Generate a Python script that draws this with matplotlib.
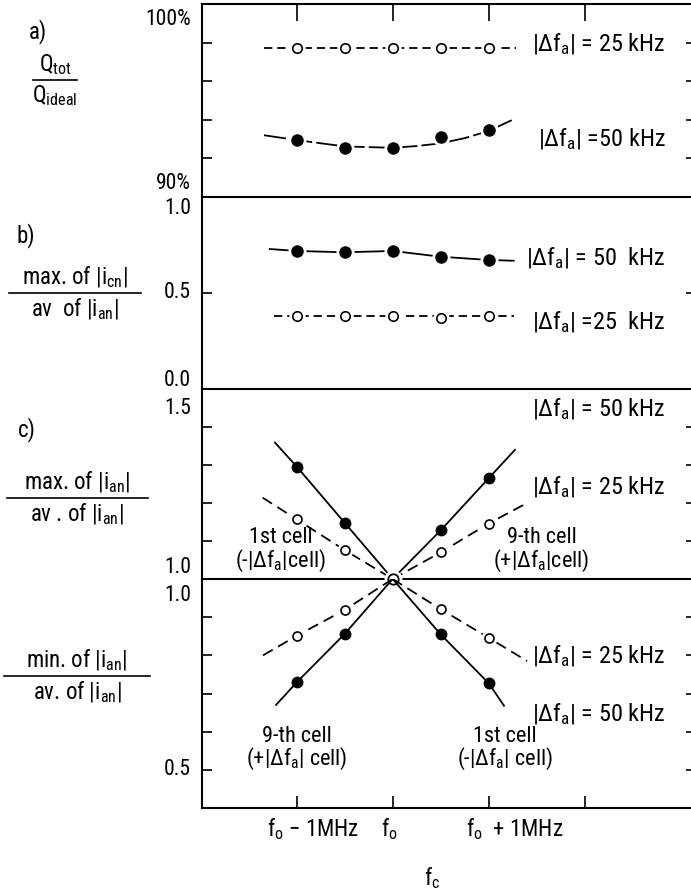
import matplotlib
matplotlib.use('Agg')
import matplotlib.pyplot as plt
from matplotlib import font_manager
from matplotlib.lines import Line2D

# carrier offset from f0 in MHz
fc = [-1.0, -0.5, 0.0, 0.5, 1.0]
fc_neg = [-1.0, -0.5]
fc_pos = [0.5, 1.0]

# a) Q_tot / Q_ideal  (%)
q_25 = [97.7, 97.7, 97.7, 97.7, 97.7]
q_25_ends = [-1.34, 1.28]
q_50 = [92.95, 92.55, 92.54, 93.12, 93.47]
q_50_fit_x = [-1.34, -1.0, -0.5, 0.0, 0.25, 0.5, 0.75, 1.0, 1.24]
q_50_fit_y = [93.2, 92.95, 92.62, 92.55, 92.64, 92.78, 93.05, 93.42, 93.98]

# b) max |i_cn| / av |i_an|
icn_50 = [0.719, 0.712, 0.719, 0.689, 0.672]
icn_50_start = (-1.28, 0.729)
icn_50_end = (1.26, 0.668)
icn_25 = [0.38, 0.38, 0.38, 0.371, 0.38]
icn_25_ends = [-1.24, 1.26]

# c) max and min of |i_an| / av |i_an|, all lines meet at (f0, 1.0)
center = (0.0, 1.0)
max_50_neg = [1.296, 1.148]
max_50_pos = [1.128, 1.265]
max_25_neg = [1.157, 1.076]
max_25_pos = [1.07, 1.146]
min_50_neg = [0.729, 0.856]
min_50_pos = [0.855, 0.727]
min_25_neg = [0.851, 0.919]
min_25_pos = [0.921, 0.846]
# outer ends of the straight lines (x, y)
max_50_ends = [(-1.226, 1.359), (1.274, 1.34)]
max_25_ends = [(-1.354, 1.214), (1.4, 1.2)]
min_50_ends = [(-1.215, 0.67), (1.16, 0.668)]
min_25_ends = [(-1.35, 0.80), (1.4, 0.785)]

xtick_pos = [-1, 0, 1, 2]
xtick_text = [r'f$_\mathrm{o}$ $-$ 1MHz', r'f$_\mathrm{o}$', r'f$_\mathrm{o}$  + 1MHz']

DF = r'$|\Delta \mathrm{f}_\mathrm{a}|$'

names = {f.name for f in font_manager.fontManager.ttflist}
FONT = 'DejaVu Sans'
for n in ['Liberation Sans Narrow', 'Roboto Condensed', 'Liberation Sans']:
    if n in names:
        FONT = n
        break
plt.rcParams['font.family'] = [FONT, 'DejaVu Sans']
plt.rcParams['mathtext.fontset'] = 'custom'
plt.rcParams['mathtext.rm'] = FONT
plt.rcParams['mathtext.it'] = FONT
plt.rcParams['mathtext.bf'] = FONT
plt.rcParams['lines.scale_dashes'] = False
FS = 15.5      # numbers
FS_L = 17.5    # curve labels
FS_F = 16.5    # axis fractions

W, H = 691, 894
fig = plt.figure(figsize=(W / 100, H / 100), dpi=100)

def box(top, bottom, left=202, right=696):
    return [left / W, 1 - bottom / H, (right - left) / W, (bottom - top) / H]

ax_a = fig.add_axes(box(4, 197))
ax_b = fig.add_axes(box(197, 389))
ax_cu = fig.add_axes(box(389, 579))
ax_cl = fig.add_axes(box(579, 808))

XL = (-1.986, 3.16)
LW = 1.5
for ax in (ax_a, ax_b, ax_cu, ax_cl):
    ax.set_xlim(*XL)
    ax.patch.set_alpha(0)
    ax.spines['right'].set_visible(False)
    ax.spines['top'].set_visible(False)
    for s in ('left', 'bottom'):
        ax.spines[s].set_linewidth(LW)
    ax.tick_params(axis='y', direction='in', length=7.5, width=1.2,
                   left=True, right=True, labelleft=False)
    ax.tick_params(axis='x', bottom=False, top=False, labelbottom=False)
ax_a.spines['top'].set_visible(True)
ax_a.spines['top'].set_linewidth(LW)

def ylab(ax, text, y, off):
    ax.annotate(text, xy=(0, y), xycoords=('axes fraction', 'data'),
                xytext=(-8, off), textcoords='offset points',
                ha='right', va='center', fontsize=FS)

def open_pts(ax, x, y, ms=6.8):
    ax.plot(x, y, 'o', ms=ms + 4, mfc='white', mec='white', zorder=4)
    ax.plot(x, y, 'o', ms=ms, mfc='white', mec='black', mew=1.2, zorder=5)

def full_pts(ax, x, y, ms=8.0, halo=True):
    if halo:
        ax.plot(x, y, 'o', ms=ms + 4, mfc='white', mec='white', zorder=4)
    ax.plot(x, y, 'o', ms=ms, mfc='black', mec='black', zorder=5)

def curve_label(ax, text, y):
    ax.text(2.84, y, text, ha='right', va='center', fontsize=FS_L)

DASH_S = (0, (6, 3.5))
DASH_L = (0, (8, 4.5))

# ---- a)
ax_a.set_ylim(90, 100)
ax_a.set_yticks([92, 94, 96, 98])
ax_a.set_xticks(xtick_pos)
ax_a.tick_params(axis='x', top=True, direction='in', length=12.5, width=1.2)
ax_a.plot(q_25_ends, [q_25[0], q_25[-1]], color='black', lw=1.3, ls=DASH_S)
open_pts(ax_a, fc, q_25)
ax_a.plot(q_50_fit_x, q_50_fit_y, color='black', lw=1.3, ls=(0, (16, 3)))
full_pts(ax_a, fc, q_50)
curve_label(ax_a, DF + ' = 25 kHz', 97.9)
curve_label(ax_a, DF + ' =50 kHz', 93.0)
ylab(ax_a, '100%', 100, -11.5)
ylab(ax_a, '90%', 90, 9.5)

# ---- b)
ax_b.set_ylim(0, 1.0)
ax_b.set_yticks([0.5])
ax_b.plot([icn_50_start[0]] + fc + [icn_50_end[0]],
          [icn_50_start[1]] + icn_50 + [icn_50_end[1]], color='black', lw=1.3)
full_pts(ax_b, fc, icn_50)
ax_b.plot(icn_25_ends, [icn_25[0], icn_25[-1]], color='black', lw=1.3, ls=DASH_S)
open_pts(ax_b, fc, icn_25)
curve_label(ax_b, DF + ' = 50  kHz', 0.68)
curve_label(ax_b, DF + ' =25  kHz', 0.35)
ylab(ax_b, '1.0', 1.0, -8)
ylab(ax_b, '0.5', 0.5, 0)
ylab(ax_b, '0.0', 0.0, 6)

# ---- c) upper: max, lower: min
ax_cu.set_ylim(1.0, 1.5)
ax_cu.set_yticks([1.1, 1.2, 1.3, 1.4])
ax_cl.set_ylim(0.4, 1.0)
ax_cl.set_yticks([0.5, 0.6, 0.7, 0.8, 0.9])
ax_cl.set_xticks(xtick_pos)
ax_cl.tick_params(axis='x', bottom=True, direction='in', length=8.5, width=1.2)

def branch(ax, ends, neg, pos, ls, filled):
    (xl, yl), (xr, yr) = ends
    ax.plot([xl] + fc_neg + [center[0]], [yl] + neg + [center[1]],
            color='black', lw=1.3, ls=ls)
    ax.plot([center[0]] + fc_pos + [xr], [center[1]] + pos + [yr],
            color='black', lw=1.3, ls=ls)
    if filled:
        full_pts(ax, fc_neg + fc_pos, neg + pos, ms=7.5, halo=False)
    else:
        open_pts(ax, fc_neg + fc_pos, neg + pos, ms=6.5)

branch(ax_cu, max_50_ends, max_50_neg, max_50_pos, '-', True)
branch(ax_cu, max_25_ends, max_25_neg, max_25_pos, DASH_L, False)
branch(ax_cl, min_50_ends, min_50_neg, min_50_pos, '-', True)
branch(ax_cl, min_25_ends, min_25_neg, min_25_pos, DASH_L, False)
ax_cu.plot([center[0]], [center[1]], 'o', ms=12, mfc='white', mec='white',
           zorder=8, clip_on=False)
ax_cu.plot([center[0]], [center[1]], 'o', ms=7.5, mfc='white', mec='black',
           mew=1.3, zorder=9, clip_on=False)

curve_label(ax_cu, DF + ' = 50 kHz', 1.448)
curve_label(ax_cu, DF + ' = 25 kHz', 1.243)
curve_label(ax_cl, DF + ' = 25 kHz', 0.798)
curve_label(ax_cl, DF + ' = 50 kHz', 0.647)

def cell_label(ax, x, y, text):
    ax.text(x, y, text, ha='center', va='center', fontsize=16,
            linespacing=0.95, multialignment='center')

cell_label(ax_cu, -1.17, 1.075, '1st cell\n(-' + DF + 'cell)')
cell_label(ax_cu, 1.55, 1.075, '9-th cell\n(+' + DF + 'cell)')
cell_label(ax_cl, -1.0, 0.555, '9-th cell\n(+' + DF + ' cell)')
cell_label(ax_cl, 1.17, 0.555, '1st cell\n(-' + DF + ' cell)')

ylab(ax_cu, '1.5', 1.5, -14)
ylab(ax_cu, '1.0', 1.0, 8)
ylab(ax_cl, '1.0', 1.0, -12)
ylab(ax_cl, '0.5', 0.5, 0)

# x tick labels under the bottom axis
for x, t, dx in zip(xtick_pos, xtick_text, [0.17, -0.03, 0.27]):
    ax_cl.annotate(t, xy=(x + dx, 0), xycoords=('data', 'axes fraction'),
                   xytext=(0, -15), textcoords='offset points',
                   ha='center', va='center', fontsize=FS_F)

def ftext(x, y, s, **kw):
    fig.text(x / W, 1 - y / H, s, fontsize=FS_F, **kw)

def frac(num, den, xc, ybar, x0, x1):
    ftext(xc, ybar - 3, num, ha='center', va='bottom')
    ftext(xc, ybar + 3, den, ha='center', va='top')
    fig.add_artist(Line2D([x0 / W, x1 / W], [1 - ybar / H] * 2, color='black', lw=1.2))

ftext(38, 32, 'a)', ha='center', va='center')
frac(r'Q$_\mathrm{tot}$', r'Q$_\mathrm{ideal}$', 55, 80, 33, 77)
ftext(26, 236, 'b)', ha='center', va='center')
frac(r'max. of $|\mathrm{i}_\mathrm{cn}|$', r'av  of $|\mathrm{i}_\mathrm{an}|$', 75, 293, 9, 141)
ftext(27, 430, 'c)', ha='center', va='center')
frac(r'max. of $|\mathrm{i}_\mathrm{an}|$', r'av . of $|\mathrm{i}_\mathrm{an}|$', 77, 498, 7, 148)
frac(r'min. of $|\mathrm{i}_\mathrm{an}|$', r'av. of $|\mathrm{i}_\mathrm{an}|$', 77, 676, 4, 150)
ftext(432, 878, r'f$_\mathrm{c}$', ha='center', va='center')

fig.savefig('out.png', dpi=100)
